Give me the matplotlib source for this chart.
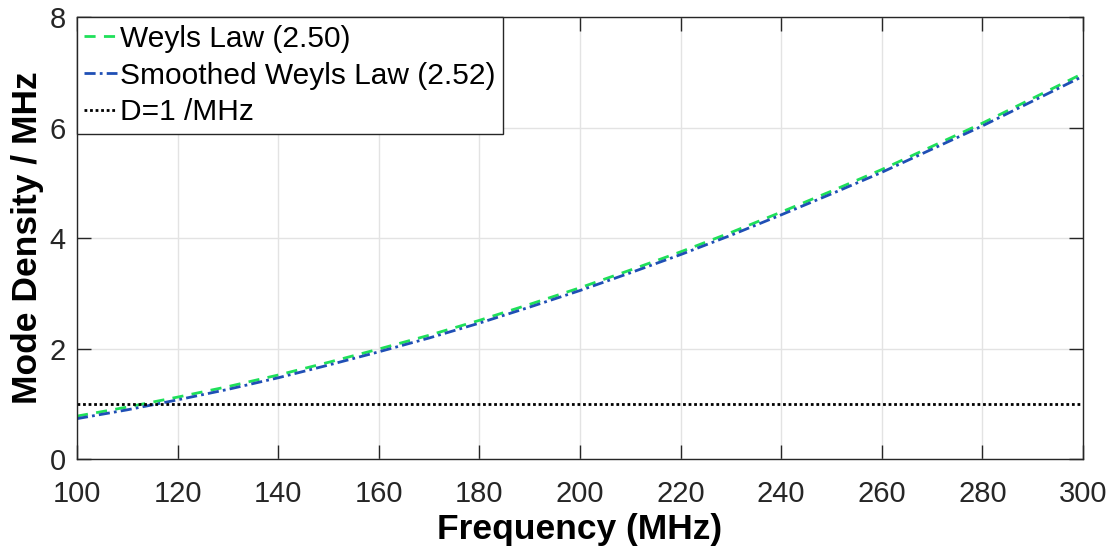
import matplotlib
matplotlib.use("Agg")
import matplotlib.pyplot as plt

# frequency samples (MHz) and mode densities
freq = [100, 110, 120, 130, 140, 150, 160, 170, 180, 190, 200,
        210, 220, 230, 240, 250, 260, 270, 280, 290, 300]
weyl = [0.776, 0.94, 1.12, 1.31, 1.52, 1.75, 1.99, 2.24, 2.51, 2.80, 3.10,
        3.42, 3.75, 4.10, 4.47, 4.85, 5.24, 5.66, 6.08, 6.53, 6.98]
weyl_smooth = [0.73, 0.89, 1.07, 1.26, 1.47, 1.70, 1.94, 2.19, 2.46, 2.75, 3.05,
               3.37, 3.70, 4.05, 4.42, 4.80, 5.19, 5.61, 6.03, 6.48, 6.93]
d_const = [1.0] * len(freq)

plt.rcParams['font.family'] = ['Liberation Sans', 'DejaVu Sans']
dark = '#262626'

fig = plt.figure(figsize=(11.17, 5.51), dpi=100)
ax = fig.add_axes([0.0689, 0.167, 0.9007, 0.802])

ax.plot(freq, weyl, '--', color='#1fe05a', lw=2, dashes=(4, 3), label='Weyls Law (2.50)')
ax.plot(freq, weyl_smooth, '-.', color='#1f4fb5', lw=2, dashes=(4, 1.5, 1, 1.5),
        label='Smoothed Weyls Law (2.52)')
ax.plot(freq, d_const, ':', color='black', lw=2, dashes=(1, 1), label='D=1 /MHz')

ax.set_xlim(100, 300)
ax.set_ylim(0, 8)
ax.set_xticks(range(100, 301, 20))
ax.set_yticks([0, 2, 4, 6, 8])
ax.grid(True, color='#e3e3e3', lw=1)
ax.set_axisbelow(True)
ax.tick_params(direction='in', length=10, width=1, top=True, right=True,
               labelsize=21, colors=dark)
ax.tick_params(axis='x', pad=15)
ax.tick_params(axis='y', pad=8)
for s in ax.spines.values():
    s.set_color(dark)
    s.set_linewidth(1)

ax.set_xlabel('Frequency (MHz)', fontsize=25.5, fontweight='bold', labelpad=4)
ax.set_ylabel('Mode Density / MHz', fontsize=25.5, fontweight='bold', labelpad=4)

leg = ax.legend(loc='upper left', fontsize=21.5, handlelength=1.1, handletextpad=0.08,
                borderaxespad=0, borderpad=0.25, labelspacing=0.3, fancybox=False,
                framealpha=1, edgecolor=dark)
leg.get_frame().set_linewidth(1)

plt.savefig("out.png", dpi=100)
